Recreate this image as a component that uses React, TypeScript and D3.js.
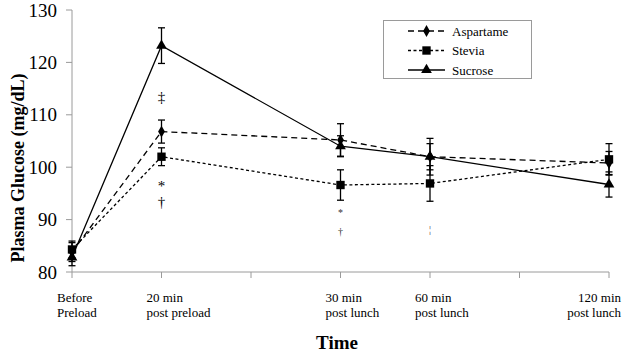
import {useEffect, useRef} from "react";
import * as d3 from "d3";

// time points (position on the x scale) and their two-line labels
const timePos = [0, 1, 3, 4, 6];
const timeLine1 = ["Before", "20 min", "30 min", "60 min", "120 min"];
const timeLine2 = ["Preload", "post preload", "post lunch", "post lunch", "post lunch"];

const aspartame = [83.8, 106.8, 105.2, 102.0, 100.8];
const aspartameErr = [1.8, 2.2, 3.1, 3.5, 2.2];
const stevia = [84.3, 102.0, 96.6, 96.9, 101.5];
const steviaErr = [1.6, 1.7, 2.9, 3.4, 3.0];
const sucrose = [82.8, 123.2, 104.0, 102.0, 96.7];
const sucroseErr = [1.6, 3.4, 2.0, 2.5, 2.4];

const yTicks = [80, 90, 100, 110, 120, 130];

// significance marks: [time index, value position, symbol, small?]
const marks: [number, number, string, boolean][] = [
    [1, 113.4, "‡", false],
    [1, 96.4, "*", false],
    [1, 93.3, "†", false],
    [2, 91.3, "*", true],
    [2, 87.6, "†", true],
    [3, 88.0, "¦", true],
];

const App = () => {
    const ref = useRef(null);

    useEffect(() => {
        const svg = d3.select(ref.current);
        svg.selectAll("*").remove();

        const x = d3.scaleLinear().domain([0, 6]).range([72, 609]);
        const y = d3.scaleLinear().domain([80, 130]).range([272, 10]);
        const axisColor = "#9a9a9a";
        const font = "Liberation Serif, serif";

        // y axis
        svg.append("line")
            .attr("x1", x(0)).attr("x2", x(0))
            .attr("y1", y(130)).attr("y2", y(80))
            .attr("stroke", axisColor);
        yTicks.forEach((t) => {
            svg.append("line")
                .attr("x1", x(0) - 6).attr("x2", x(0))
                .attr("y1", y(t)).attr("y2", y(t))
                .attr("stroke", axisColor);
            svg.append("text")
                .attr("x", 57).attr("y", y(t) + 6.5)
                .attr("text-anchor", "end")
                .style("font-family", font).style("font-size", "19px")
                .text(t);
        });

        // x axis
        svg.append("line")
            .attr("x1", x(0)).attr("x2", x(6))
            .attr("y1", y(80)).attr("y2", y(80))
            .attr("stroke", axisColor);
        d3.range(0, 7).forEach((t) => {
            svg.append("line")
                .attr("x1", x(t)).attr("x2", x(t))
                .attr("y1", y(80)).attr("y2", y(80) + 6)
                .attr("stroke", axisColor);
        });
        timePos.forEach((p, i) => {
            const last = i === timePos.length - 1;
            const tx = last ? x(p) + 12 : x(p) - 15;
            const t = svg.append("text")
                .style("font-family", font).style("font-size", "13px")
                .attr("text-anchor", last ? "end" : "start");
            t.append("tspan").attr("x", tx).attr("y", 302).text(timeLine1[i]);
            t.append("tspan").attr("x", tx).attr("y", 317).text(timeLine2[i]);
        });

        // axis titles
        svg.append("text")
            .attr("x", 337).attr("y", 349)
            .attr("text-anchor", "middle")
            .style("font-family", font).style("font-size", "19px").style("font-weight", "bold")
            .text("Time");
        svg.append("text")
            .attr("transform", "translate(24,168) rotate(-90)")
            .attr("text-anchor", "middle")
            .style("font-family", font).style("font-size", "18px").style("font-weight", "bold")
            .text("Plasma Glucose (mg/dL)");

        const series = [
            {name: "Aspartame", values: aspartame, err: aspartameErr, dash: "6,4", symbol: d3.symbolDiamond, size: 40},
            {name: "Stevia", values: stevia, err: steviaErr, dash: "3,2.5", symbol: d3.symbolSquare, size: 70},
            {name: "Sucrose", values: sucrose, err: sucroseErr, dash: null, symbol: d3.symbolTriangle, size: 50},
        ];

        const line = d3.line<number>()
            .x((_, i) => x(timePos[i]))
            .y((d) => y(d));

        series.forEach((s) => {
            svg.append("path")
                .attr("d", line(s.values))
                .attr("fill", "none")
                .attr("stroke", "#000")
                .attr("stroke-width", 1.3)
                .attr("stroke-dasharray", s.dash);
        });

        series.forEach((s) => {
            const g = svg.append("g");
            s.values.forEach((v, i) => {
                const cx = x(timePos[i]);
                const hi = y(v + s.err[i]);
                const lo = y(v - s.err[i]);
                g.append("line").attr("x1", cx).attr("x2", cx).attr("y1", hi).attr("y2", lo)
                    .attr("stroke", "#000").attr("stroke-width", 1.3);
                [hi, lo].forEach((cy) => {
                    g.append("line").attr("x1", cx - 3.5).attr("x2", cx + 3.5).attr("y1", cy).attr("y2", cy)
                        .attr("stroke", "#000").attr("stroke-width", 1.3);
                });
                g.append("path")
                    .attr("d", d3.symbol().type(s.symbol).size(s.size)())
                    .attr("transform", `translate(${cx},${y(v)})`)
                    .attr("fill", "#000");
            });
        });

        // significance marks
        marks.forEach(([i, v, sym, small]) => {
            svg.append("text")
                .attr("x", x(timePos[i])).attr("y", y(v) + (small ? 3 : 5))
                .attr("text-anchor", "middle")
                .style("font-family", font)
                .style("font-size", small ? "10px" : "15px")
                .attr("fill", small ? "#333" : "#000")
                .text(sym);
        });

        // legend
        const lg = svg.append("g");
        lg.append("rect")
            .attr("x", 383.5).attr("y", 20.5).attr("width", 148).attr("height", 58)
            .attr("fill", "#fff").attr("stroke", axisColor);
        series.forEach((s, i) => {
            const ly = 31 + i * 19.5;
            lg.append("line").attr("x1", 408).attr("x2", 445).attr("y1", ly).attr("y2", ly)
                .attr("stroke", "#000").attr("stroke-width", 1.3)
                .attr("stroke-dasharray", s.dash);
            lg.append("path")
                .attr("d", d3.symbol().type(s.symbol).size(s.size)())
                .attr("transform", `translate(426.5,${ly})`)
                .attr("fill", "#000");
            lg.append("text")
                .attr("x", 452).attr("y", ly + 4.5)
                .style("font-family", font).style("font-size", "13px")
                .text(s.name);
        });
    }, []);

    return (
        <div style={{position: "absolute", left: 0, top: 0}}>
            <svg ref={ref} width={624} height={353} style={{display: "block", background: "#fff"}}></svg>
        </div>
    );
};

export default App;
